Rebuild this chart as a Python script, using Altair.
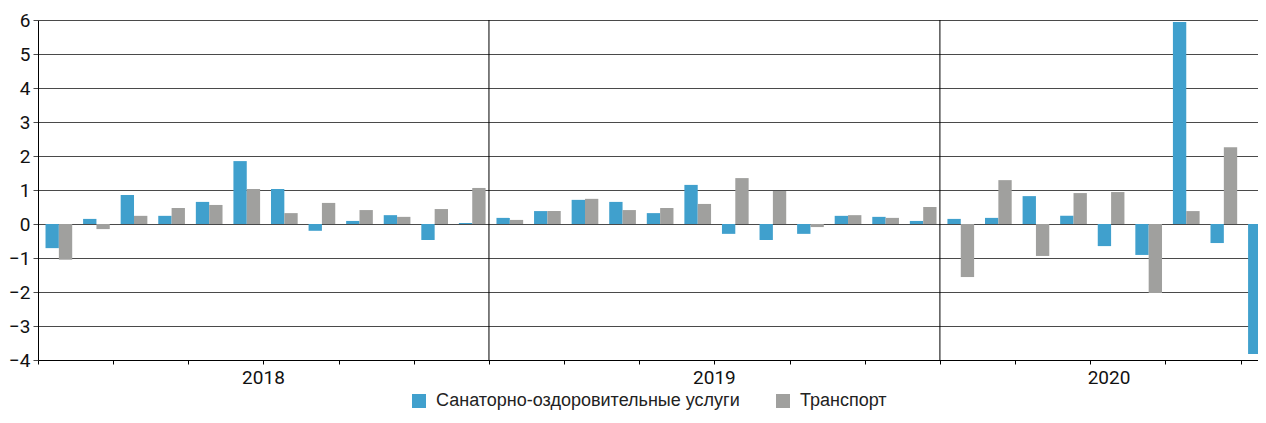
import altair as alt
import pandas as pd

years = ["2018", "2019", "2020"]
months_per_year = [12, 12, 9]
sanatorium = [-0.71, 0.15, 0.85, 0.24, 0.65, 1.85, 1.03, -0.20, 0.09, 0.26, -0.47, 0.03,
              0.18, 0.38, 0.71, 0.65, 0.32, 1.15, -0.29, -0.47, -0.29, 0.24, 0.21, 0.09,
              0.15, 0.18, 0.82, 0.24, -0.65, -0.91, 5.94, -0.56, -3.82]
transport = [-1.05, -0.15, 0.24, 0.47, 0.56, 1.03, 0.32, 0.62, 0.41, 0.21, 0.44, 1.06,
             0.12, 0.38, 0.74, 0.41, 0.47, 0.59, 1.35, 0.97, -0.09, 0.26, 0.18, 0.50,
             -1.56, 1.29, -0.94, 0.91, 0.94, -2.03, 0.38, 2.26, -0.29]
series_names = ["Санаторно-оздоровительные услуги", "Транспорт"]
colors = ["#40A0CD", "#A0A09E"]
y_ticks = list(range(-4, 7))

AX_FONT = "Roboto"
LEG_FONT = "Liberation Sans"
GROUP_PX = 37.58
W, H = 1220, 340
PAD_L, PAD_T, SVG_H = 30, 12, 403
n = sum(months_per_year)

rows = []
for i, (s, t) in enumerate(zip(sanatorium, transport)):
    rows.append({"i": i, "series": series_names[0], "slot": 0, "value": s})
    rows.append({"i": i, "series": series_names[1], "slot": 1, "value": t})
bars_df = pd.DataFrame(rows)

bounds = []
centers = []
acc = 0
for y, m in zip(years, months_per_year):
    centers.append({"year": y, "c": acc + m / 2})
    acc += m
    bounds.append({"b": acc})
bounds_df = pd.DataFrame(bounds[:-1])
centers_df = pd.DataFrame(centers)

xscale = alt.Scale(domain=[0, W / GROUP_PX], nice=False, zero=False)
yscale = alt.Scale(domain=[-4, 6], nice=False)

bars = alt.Chart(bars_df).transform_calculate(
    x0="datum.i + 0.2 + datum.slot * 0.355",
    x1="datum.i + 0.555 + datum.slot * 0.355",
    zero="0",
).mark_rect(clip=True).encode(
    x=alt.X("x0:Q", scale=xscale,
            axis=alt.Axis(values=list(range(n + 1)), labels=False, tickSize=4,
                          tickColor="#000", domainColor="#000", grid=False, title=None)),
    x2="x1:Q",
    y=alt.Y("value:Q", scale=yscale,
            axis=alt.Axis(values=y_ticks, grid=True, gridColor="#4a4a4a", gridWidth=1,
                          tickSize=5, tickColor="#4a4a4a", domainColor="#000",
                          labelFontSize=19, labelFont=AX_FONT, labelColor="#111",
                          labelPadding=3, title=None)),
    y2="zero:Q",
    color=alt.Color("series:N", scale=alt.Scale(domain=series_names, range=colors),
                    legend=alt.Legend(title=None, orient="none", direction="horizontal",
                                      legendX=372, legendY=372, symbolType="square",
                                      symbolSize=196, symbolStrokeWidth=0,
                                      labelFontSize=18, labelFont=LEG_FONT, labelColor="#222",
                                      labelLimit=0, columnPadding=34, labelOffset=8)),
)

seps = alt.Chart(bounds_df).mark_rule(color="#000", strokeWidth=1, clip=True).encode(
    x=alt.X("b:Q", scale=xscale),
    y=alt.value(0),
    y2=alt.value(H + 4),
)

labels = alt.Chart(centers_df).mark_text(fontSize=19, font=AX_FONT, color="#111",
                                          baseline="middle").encode(
    x=alt.X("c:Q", scale=xscale),
    y=alt.value(H + 18),
    text="year:N",
)

chart = alt.layer(bars, seps, labels).properties(
    width=W, height=H,
    autosize=alt.AutoSizeParams(type="none"),
    padding={"left": PAD_L, "top": PAD_T, "right": 0, "bottom": SVG_H - PAD_T - H},
).configure_view(stroke=None)

chart.save("out.html", embed_options={"renderer": "svg", "actions": False})
